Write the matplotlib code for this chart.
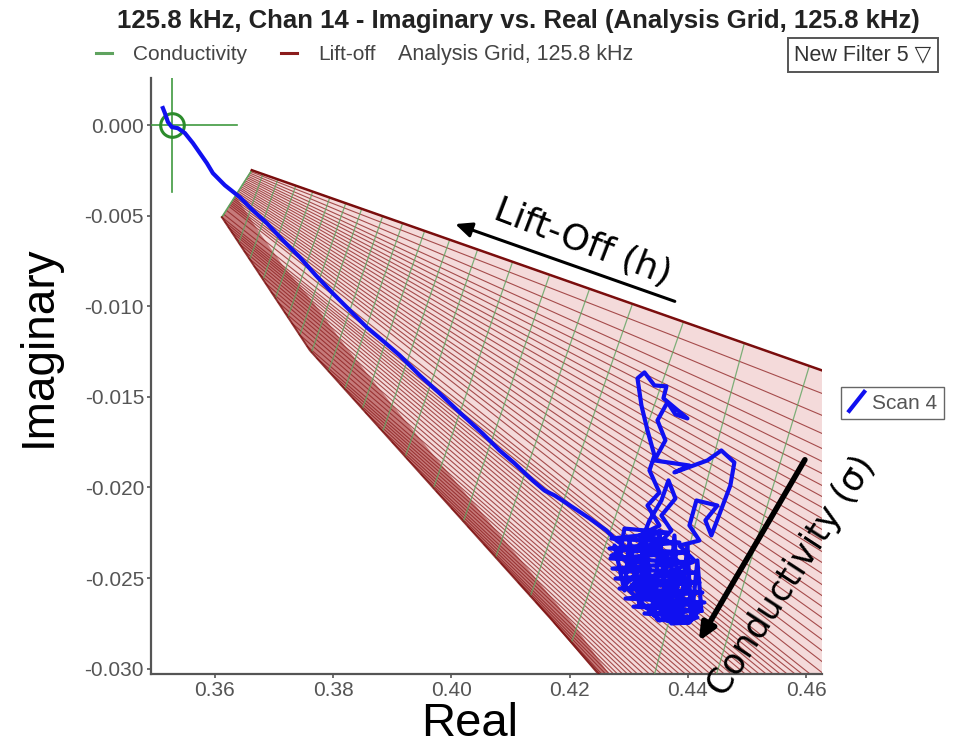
import matplotlib
matplotlib.use("Agg")
import matplotlib.pyplot as plt
from matplotlib.lines import Line2D
from matplotlib.legend_handler import HandlerBase

plt.rcParams["font.family"] = ["Liberation Sans", "DejaVu Sans"]
plt.rcParams["axes.unicode_minus"] = False

# axis ranges and ticks
x_range = (0.3492, 0.4627)
y_range = (-0.0303, 0.0026)
x_ticks = [0.36, 0.38, 0.40, 0.42, 0.44, 0.46]
y_ticks = [0.000, -0.005, -0.010, -0.015, -0.020, -0.025, -0.030]

# lift-off lines that start on the short upper edge of the grid and end on the right edge
upper_x0 = [0.36625, 0.36608, 0.36593, 0.36576, 0.36561, 0.36544, 0.36529, 0.36512,
            0.36495, 0.36480, 0.36463, 0.36448, 0.36431, 0.36416, 0.36399, 0.36382,
            0.36367, 0.36350, 0.36335, 0.36318, 0.36303, 0.36286, 0.36271, 0.36254,
            0.36237]
upper_y0 = [-0.00249, -0.00257, -0.00265, -0.00273, -0.00282, -0.00290, -0.00298, -0.00307,
            -0.00315, -0.00323, -0.00331, -0.00340, -0.00348, -0.00356, -0.00365, -0.00373,
            -0.00381, -0.00390, -0.00398, -0.00406, -0.00414, -0.00423, -0.00431, -0.00439,
            -0.00448]
upper_y1 = [-0.01354, -0.01481, -0.01602, -0.01702, -0.01785, -0.01856, -0.01923, -0.01989,
            -0.02050, -0.02110, -0.02171, -0.02232, -0.02293, -0.02354, -0.02414, -0.02475,
            -0.02536, -0.02597, -0.02657, -0.02718, -0.02779, -0.02840, -0.02901, -0.02961,
            -0.03022]
grid_edge_real = 0.4627

# lift-off lines that start on the lower (max lift-off) edge and leave through the bottom
lower_x0 = [0.36194, 0.36150, 0.36118, 0.36174, 0.36230, 0.36286, 0.36353, 0.36421,
            0.36499, 0.36576, 0.36666, 0.36755, 0.36857, 0.36958, 0.37070, 0.37181,
            0.37305, 0.37426, 0.37562, 0.37727, 0.37925, 0.38123, 0.38336, 0.38547,
            0.38775, 0.39003, 0.39246, 0.39490, 0.39748, 0.40005, 0.40279, 0.40553,
            0.40842, 0.41131, 0.41433, 0.41736]
lower_y0 = [-0.00470, -0.00492, -0.00508, -0.00536, -0.00564, -0.00591, -0.00624, -0.00657,
            -0.00696, -0.00735, -0.00779, -0.00823, -0.00873, -0.00923, -0.00978, -0.01033,
            -0.01094, -0.01155, -0.01221, -0.01287, -0.01359, -0.01431, -0.01508, -0.01586,
            -0.01669, -0.01751, -0.01840, -0.01928, -0.02022, -0.02116, -0.02216, -0.02315,
            -0.02420, -0.02525, -0.02635, -0.02746]
lower_x1 = [0.46089, 0.45954, 0.45836, 0.45701, 0.45582, 0.45464, 0.45346, 0.45227,
            0.45109, 0.44991, 0.44873, 0.44754, 0.44636, 0.44518, 0.44399, 0.44281,
            0.44180, 0.44078, 0.43977, 0.43875, 0.43774, 0.43673, 0.43571, 0.43470,
            0.43368, 0.43267, 0.43166, 0.43081, 0.42997, 0.42912, 0.42828, 0.42760,
            0.42692, 0.42625, 0.42557, 0.42490]
grid_bottom_imag = -0.03035

# conductivity lines (constant lift-off): top point on the first lift-off line, lower end
cond_x0 = [0.36811, 0.37065, 0.37369, 0.37656, 0.37944, 0.38214, 0.38484, 0.38839,
           0.39177, 0.39549, 0.39972, 0.40445, 0.41036, 0.41662, 0.42338, 0.43064,
           0.43926, 0.44957, 0.46056]
cond_y0 = [-0.00270, -0.00299, -0.00334, -0.00367, -0.00400, -0.00431, -0.00462, -0.00503,
           -0.00541, -0.00584, -0.00633, -0.00687, -0.00755, -0.00827, -0.00904, -0.00987,
           -0.01086, -0.01204, -0.01330]
cond_x1 = [0.36406, 0.36592, 0.36816, 0.37024, 0.37234, 0.37438, 0.37634, 0.37923,
           0.38197, 0.38494, 0.38839, 0.39221, 0.39698, 0.40203, 0.40749, 0.41337,
           0.42032, 0.43436, 0.44484]
cond_y1 = [-0.00650, -0.00742, -0.00852, -0.00956, -0.01061, -0.01159, -0.01254, -0.01359,
           -0.01458, -0.01567, -0.01691, -0.01831, -0.02004, -0.02188, -0.02387, -0.02601,
           -0.02856, -0.03033, -0.03033]

# max lift-off conductivity curve (grid edge)
edge_real = [0.36625, 0.36118, 0.37606, 0.41662, 0.42507]
edge_imag = [-0.00249, -0.00508, -0.01243, -0.02718, -0.03033]

# inner side of the crowded high-conductivity band along that edge
band_real = [0.36355, 0.36727, 0.37149, 0.37639, 0.38197, 0.38873, 0.39634, 0.40479,
             0.41324, 0.42084, 0.42676]
band_imag = [-0.00392, -0.00580, -0.00774, -0.00967, -0.01216, -0.01492, -0.01796, -0.02127,
             -0.02459, -0.02763, -0.03033]

# air point marker
air_real, air_imag = 0.3527, 0.0000

# scan 4 trace
scan_real = [0.35121, 0.35155, 0.35206, 0.35273, 0.35375, 0.35493, 0.35628, 0.35747,
             0.35865, 0.35966, 0.36169, 0.36423, 0.36642, 0.36879, 0.37149, 0.37437,
             0.37707, 0.37994, 0.38282, 0.38569, 0.38873, 0.39127, 0.39465, 0.39803,
             0.40141, 0.40529, 0.40817, 0.41070, 0.41374, 0.41577, 0.41746, 0.42084,
             0.42338, 0.42625, 0.42794, 0.42980, 0.42709, 0.43183, 0.42878, 0.43352,
             0.43047, 0.43521, 0.43183, 0.43723, 0.43385, 0.43994, 0.43605, 0.44112,
             0.43825, 0.43521, 0.44028, 0.44197, 0.43690, 0.43994, 0.43436, 0.43825,
             0.43318, 0.43656, 0.43183, 0.43521, 0.43318, 0.43521, 0.43352, 0.43436,
             0.43318, 0.43216, 0.43149, 0.43267, 0.43436, 0.43639, 0.43588, 0.43994,
             0.43791, 0.43656, 0.43487, 0.43622, 0.43436, 0.44028, 0.43774, 0.44332,
             0.44568, 0.44788, 0.44720, 0.44399, 0.44298, 0.44501, 0.44146, 0.44028,
             0.44197, 0.43859, 0.44112, 0.43774, 0.44028, 0.43656, 0.43926, 0.43521,
             0.43183, 0.42929, 0.43267, 0.42980, 0.43436, 0.43723, 0.43554, 0.43791,
             0.43673, 0.43554, 0.43352, 0.43183, 0.43436, 0.43690, 0.44028, 0.44197,
             0.43859, 0.43605, 0.43352, 0.43098, 0.42845,
             0.42929, 0.43656, 0.42709, 0.43859, 0.42676, 0.43994, 0.42692, 0.44078,
             0.42726, 0.44146, 0.42777, 0.44197, 0.42845, 0.44247, 0.42946, 0.44281,
             0.43081, 0.44230, 0.43267, 0.44163, 0.43487, 0.44028, 0.43723,
             0.42760, 0.42929, 0.43014, 0.43183, 0.43267, 0.43436, 0.43521, 0.43656,
             0.43774, 0.43859, 0.43994, 0.44061, 0.44163, 0.44230]
scan_imag = [0.00094, 0.00066, 0.00017, -0.00011, -0.00017, -0.00044, -0.00099, -0.00155,
             -0.00210, -0.00265, -0.00332, -0.00398, -0.00470, -0.00541, -0.00635, -0.00729,
             -0.00829, -0.00928, -0.01022, -0.01116, -0.01199, -0.01271, -0.01381, -0.01481,
             -0.01586, -0.01702, -0.01796, -0.01867, -0.01961, -0.02017, -0.02044, -0.02116,
             -0.02171, -0.02238, -0.02293, -0.02337, -0.02376, -0.02403, -0.02470, -0.02448,
             -0.02542, -0.02514, -0.02608, -0.02580, -0.02663, -0.02641, -0.02707, -0.02724,
             -0.02746, -0.02691, -0.02613, -0.02663, -0.02569, -0.02503, -0.02486, -0.02403,
             -0.02359, -0.02293, -0.02265, -0.02210, -0.02100, -0.02028, -0.01906, -0.01823,
             -0.01685, -0.01547, -0.01398, -0.01365, -0.01437, -0.01442, -0.01508, -0.01619,
             -0.01597, -0.01530, -0.01630, -0.01740, -0.01851, -0.01879, -0.01917, -0.01851,
             -0.01796, -0.01862, -0.01989, -0.02265, -0.02182, -0.02100, -0.02072, -0.02210,
             -0.02293, -0.02321, -0.02403, -0.02459, -0.02542, -0.02624, -0.02691, -0.02735,
             -0.02624, -0.02542, -0.02431, -0.02359, -0.02337, -0.02238, -0.02155, -0.02061,
             -0.01961, -0.02072, -0.02182, -0.02321, -0.02569, -0.02707, -0.02735, -0.02680,
             -0.02624, -0.02542, -0.02486, -0.02431, -0.02376,
             -0.02227, -0.02249, -0.02282, -0.02304, -0.02337, -0.02359, -0.02392, -0.02414,
             -0.02448, -0.02470, -0.02503, -0.02525, -0.02558, -0.02580, -0.02613, -0.02635,
             -0.02658, -0.02680, -0.02696, -0.02718, -0.02729, -0.02746, -0.02751,
             -0.02321, -0.02569, -0.02293, -0.02652, -0.02265, -0.02707, -0.02238, -0.02735,
             -0.02265, -0.02746, -0.02321, -0.02735, -0.02403, -0.02680]

red = "#8b1c1c"
green = "#5fa35f"
blue = "#1010f0"
gray = "#555555"


class SlashHandler(HandlerBase):
    def create_artists(self, legend, orig_handle, xdescent, ydescent,
                       width, height, fontsize, trans):
        line = Line2D([-xdescent + 0.1 * width, -xdescent + 0.9 * width],
                      [-ydescent - 0.15 * height, -ydescent + 1.15 * height],
                      color=orig_handle.get_color(), lw=3, transform=trans)
        return [line]


fig = plt.figure(figsize=(9.57, 7.48), dpi=100)
ax = fig.add_axes([0.1578, 0.0989, 0.7011, 0.7968])

# pale backing of the grid, outlined by the ends of the lift-off lines
fill_x = ([upper_x0[0]] + [grid_edge_real] * len(upper_y1) + lower_x1
          + lower_x0[::-1] + upper_x0[::-1])
fill_y = ([upper_y0[0]] + upper_y1 + [grid_bottom_imag] * len(lower_x1)
          + lower_y0[::-1] + upper_y0[::-1])
ax.fill(fill_x, fill_y, color="#f4dada", lw=0, zorder=1)

# darker band where the high-conductivity lines crowd together
ax.fill(band_real + edge_real[:0:-1], band_imag + edge_imag[:0:-1],
        color="#a83a3a", alpha=0.6, lw=0, zorder=1.5)

for x0, y0, y1 in zip(upper_x0, upper_y0, upper_y1):
    ax.plot([x0, grid_edge_real], [y0, y1], color=red, lw=0.8, alpha=0.75, zorder=2)
for x0, y0, x1 in zip(lower_x0, lower_y0, lower_x1):
    ax.plot([x0, x1], [y0, grid_bottom_imag], color=red, lw=0.8, alpha=0.75, zorder=2)
ax.plot([upper_x0[0], grid_edge_real], [upper_y0[0], upper_y1[0]],
        color="#7a0d0d", lw=1.8, zorder=4)

for x0, y0, x1, y1 in zip(cond_x0, cond_y0, cond_x1, cond_y1):
    ax.plot([x0, x1], [y0, y1], color=green, lw=0.9, alpha=0.8, zorder=3)
ax.plot(edge_real[:2], edge_imag[:2], color=green, lw=1.2, zorder=3)
ax.plot(edge_real[1:], edge_imag[1:], color="#7a0d0d", lw=1.4, alpha=0.8, zorder=3)

# air point crosshair
ax.plot([x_range[0], 0.3637], [air_imag, air_imag], color="#3f9a3f", lw=1.2, zorder=5)
ax.plot([air_real, air_real], [y_range[1], -0.0037], color="#3f9a3f", lw=1.2, zorder=5)
ax.plot([air_real], [air_imag], marker="o", ms=17, mfc="none", mec="#2c8c2c",
        mew=2.2, zorder=6)

scan_line, = ax.plot(scan_real, scan_imag, color=blue, lw=3.0, zorder=7,
                     solid_joinstyle="round")

# annotations
ax.annotate("", xy=(0.40022, -0.00541), xytext=(0.43825, -0.00978),
            arrowprops=dict(arrowstyle="-|>,head_length=1.0,head_width=0.45",
                            color="black", lw=2.2), annotation_clip=False, zorder=8)
ax.text(0.42219, -0.00646, "Lift-Off (h)", rotation=-21, fontsize=26,
        family="DejaVu Sans", ha="center", va="center", zorder=8)
ax.annotate("", xy=(0.44163, -0.02862), xytext=(0.46005, -0.01834),
            arrowprops=dict(arrowstyle="-|>,head_length=1.0,head_width=0.45",
                            color="black", lw=4), annotation_clip=False, zorder=8)
ax.text(0.45751, -0.02486, "Conductivity (\u03c3)", rotation=57, fontsize=25,
        family="DejaVu Sans", ha="center", va="center", clip_on=False, zorder=8)

ax.set_xlim(*x_range)
ax.set_ylim(*y_range)
ax.set_xticks(x_ticks)
ax.set_xticklabels([f"{v:.2f}" for v in x_ticks])
ax.set_yticks(y_ticks)
ax.set_yticklabels([f"{v:.3f}" for v in y_ticks])
ax.tick_params(length=3, width=1.2, color=gray, labelcolor=gray, labelsize=15, pad=2)
for side in ("top", "right"):
    ax.spines[side].set_visible(False)
for side in ("left", "bottom"):
    ax.spines[side].set_color(gray)
    ax.spines[side].set_linewidth(1.6)

fig.text(0.5415, 0.972, "125.8 kHz, Chan 14 - Imaginary vs. Real (Analysis Grid, 125.8 kHz)",
         ha="center", va="center", fontsize=18.5, fontweight="bold", color="#222222")
fig.text(0.040, 0.537, "Imaginary", rotation=90, ha="center", va="center", fontsize=33)
fig.text(0.491, 0.016, "Real", ha="center", va="baseline", fontsize=34)

top_handles = [Line2D([], [], color=green, lw=2.2), Line2D([], [], color=red, lw=2.2)]
fig.legend(top_handles, ["Conductivity", "Lift-off"], loc="center left",
           bbox_to_anchor=(0.100, 0.927), ncol=2, frameon=False, fontsize=15,
           labelcolor="#444444", handlelength=0.8, handletextpad=1.0,
           columnspacing=1.6, borderaxespad=0, borderpad=0)
fig.text(0.416, 0.927, "Analysis Grid, 125.8 kHz", ha="left", va="center",
         fontsize=15.5, color="#444444")
fig.text(0.83, 0.927, "New Filter 5 \u25bd", ha="left", va="center", fontsize=15.5,
         color="#333333",
         bbox=dict(boxstyle="square,pad=0.3", fc="white", ec="#555555", lw=1.4))

fig.legend([scan_line], ["Scan 4"], loc="center left", bbox_to_anchor=(0.868, 0.461),
           handler_map={Line2D: SlashHandler()}, fancybox=False, edgecolor="#666666",
           fontsize=15, labelcolor="#555555", handlelength=0.9, handletextpad=0.3,
           borderpad=0.3, framealpha=1)

fig.savefig("out.png", dpi=100)
